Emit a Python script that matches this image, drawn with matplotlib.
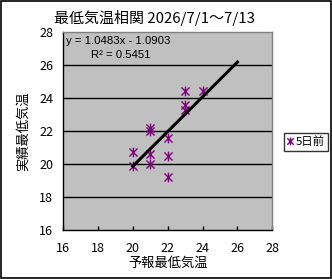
import numpy as np
import matplotlib
matplotlib.use("Agg")
import matplotlib.pyplot as plt
from matplotlib.path import Path
from matplotlib.patches import Rectangle

plt.rcParams['font.family'] = ['Noto Sans CJK JP', 'DejaVu Sans']

# forecast vs actual minimum temperature, 7/1 - 7/13
forecast = [23, 24, 23, 23, 21, 21, 22, 20, 21, 22, 20, 21, 22]
actual = [24.4, 24.4, 23.6, 23.3, 22.2, 22.0, 21.6, 20.7, 20.6, 20.5, 19.9, 20.0, 19.2]
series_name = "5日前"
title = "最低気温相関 2026/7/1～7/13"
eq_text = "y = 1.0483x - 1.0903"
r2_text = "R² = 0.5451"
trend_range = [20, 26]
ticks = [16, 18, 20, 22, 24, 26, 28]

# excel style asterisk marker: x plus vertical bar
star = Path([(-1, -1), (1, 1), (-1, 1), (1, -1), (0, -1.2), (0, 1.2)],
            [Path.MOVETO, Path.LINETO, Path.MOVETO, Path.LINETO, Path.MOVETO, Path.LINETO])

fig = plt.figure(figsize=(3.32, 2.79), dpi=100)
fig.patches.append(Rectangle((0.002, 0.002), 0.994, 0.993, transform=fig.transFigure,
                             fill=False, edgecolor='black', lw=1.2))

ax = fig.add_axes([0.190, 0.176, 0.630, 0.709])
ax.set_facecolor('#C0C0C0')
ax.set_xlim(16, 28)
ax.set_ylim(16, 28)
ax.set_xticks(ticks)
ax.set_yticks(ticks)
for v in ticks[1:-1]:
    ax.axhline(v, color='black', lw=1.0, zorder=1)

ax.plot(forecast, actual, linestyle='none', marker=star, markersize=7,
        markeredgewidth=1.0, color='#800080', fillstyle='none', zorder=3, label=series_name)

coef = np.polyfit(forecast, actual, 1)
tx = np.array(trend_range)
ax.plot(tx, np.polyval(coef, tx), color='black', lw=2.2, zorder=4)

for s in ['left', 'bottom']:
    ax.spines[s].set_color('black')
    ax.spines[s].set_linewidth(1.0)
for s in ['top', 'right']:
    ax.spines[s].set_color('#808080')
    ax.spines[s].set_linestyle((0, (1, 1)))
    ax.spines[s].set_linewidth(1.0)

ax.tick_params(direction='in', length=3, width=1, labelsize=9, pad=7,
               top=False, right=False)
ax.tick_params(axis='x', pad=9)
ax.tick_params(axis='y', length=0)
ax.set_xlabel("予報最低気温", fontsize=9.5, labelpad=1)
ax.set_ylabel("実績最低気温", fontsize=9.5, labelpad=7)

ax.text(0.012, 0.955, eq_text, transform=ax.transAxes, fontsize=8.2,
        family=['Liberation Sans', 'DejaVu Sans'], va='center', ha='left')
ax.text(0.135, 0.885, r2_text, transform=ax.transAxes, fontsize=8.2,
        family=['Liberation Sans', 'DejaVu Sans'], va='center', ha='left')

fig.text(154 / 332, 1 - 18 / 279, title, fontsize=10.8, ha='center', va='center')

leg = fig.legend(loc='center', bbox_to_anchor=(306 / 332, 1 - 142 / 279),
                 fontsize=8.2, frameon=True, fancybox=False, handlelength=0.6,
                 handletextpad=0.2, borderpad=0.3, markerscale=0.8)
leg.get_frame().set_edgecolor('black')
leg.get_frame().set_linewidth(1.0)

fig.savefig("out.png", dpi=100)
